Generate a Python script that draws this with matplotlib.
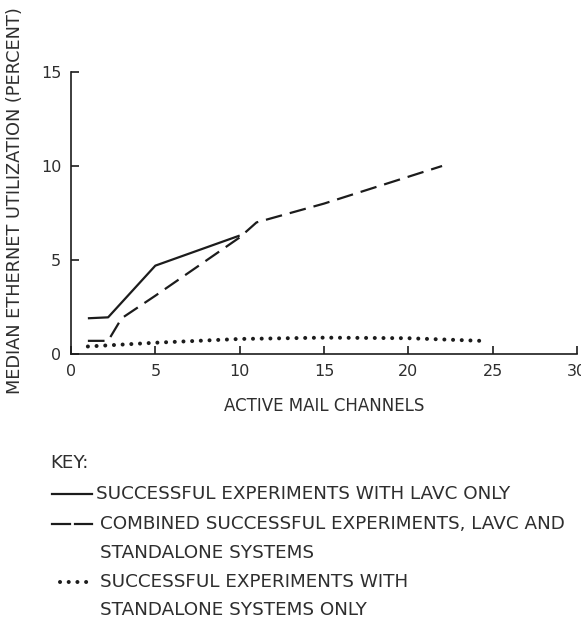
import matplotlib
matplotlib.use("Agg")
import matplotlib.pyplot as plt
from matplotlib.lines import Line2D

plt.rcParams['font.family'] = ['DejaVu Sans']

# Data
lavc_x = [1, 2.2, 5, 10]
lavc_y = [1.9, 1.95, 4.7, 6.3]

combined_x = [1, 2.2, 3, 5, 10, 11, 15, 22]
combined_y = [0.7, 0.7, 1.9, 3.1, 6.2, 7.0, 8.0, 10.0]

standalone_x = [1, 5, 10, 15, 20, 24.3]
standalone_y = [0.4, 0.6, 0.8, 0.87, 0.84, 0.7]

x_ticks = [0, 5, 10, 15, 20, 25, 30]
y_ticks = [0, 5, 10, 15]

W, H = 581, 627
fig = plt.figure(figsize=(W / 100, H / 100), dpi=100)
ink = '#1c1c1c'
txt = '#2e2e2e'

x0, x1 = 71, 577
y0, y1 = 354, 72
ax = fig.add_axes([x0 / W, 1 - y0 / H, (x1 - x0) / W, (y0 - y1) / H])
ax.plot(lavc_x, lavc_y, color=ink, lw=1.6, solid_capstyle='butt')
ax.plot(combined_x, combined_y, color=ink, lw=1.6, linestyle=(0, (7.5, 3.6)))
ax.plot(standalone_x, standalone_y, color=ink, lw=2.9, linestyle=(0, (0.01, 2.15)),
        dash_capstyle='round')

ax.set_xlim(0, 30)
ax.set_ylim(0, 15)
ax.set_xticks(x_ticks)
ax.set_yticks(y_ticks)
for s in ['top', 'right']:
    ax.spines[s].set_visible(False)
for s in ['left', 'bottom']:
    ax.spines[s].set_color(ink)
    ax.spines[s].set_linewidth(1.2)
ax.tick_params(axis='x', direction='in', length=6, width=1.2, colors=ink,
               labelsize=11.5, labelcolor=txt, pad=7)
ax.tick_params(axis='y', direction='in', length=6, width=1.2, colors=ink,
               labelsize=11.5, labelcolor=txt, pad=7)
ax.set_xlabel('ACTIVE MAIL CHANNELS', fontsize=12, color=txt, labelpad=13)
ax.patch.set_alpha(0)

# Overlay for y label and key, pixel coordinates
ov = fig.add_axes([0, 0, 1, 1])
ov.set_xlim(0, W)
ov.set_ylim(H, 0)
ov.axis('off')
ov.patch.set_alpha(0)

ov.text(15, 201, 'MEDIAN ETHERNET UTILIZATION (PERCENT)', rotation=90,
        ha='center', va='center', fontsize=12.8, color=txt)

fs = 13.2
ov.text(50, 463, 'KEY:', ha='left', va='center', fontsize=fs, color=txt)
ov.add_line(Line2D([52, 92], [494, 494], color=ink, lw=1.6))
ov.text(96, 494, 'SUCCESSFUL EXPERIMENTS WITH LAVC ONLY', ha='left', va='center',
        fontsize=fs, color=txt)
ov.add_line(Line2D([52, 70], [524, 524], color=ink, lw=1.6))
ov.add_line(Line2D([75, 92], [524, 524], color=ink, lw=1.6))
ov.text(100, 524, 'COMBINED SUCCESSFUL EXPERIMENTS, LAVC AND', ha='left', va='center',
        fontsize=fs, color=txt)
ov.text(100, 553, 'STANDALONE SYSTEMS', ha='left', va='center', fontsize=fs, color=txt)
ov.add_line(Line2D([60, 90], [582, 582], color=ink, lw=2.9, linestyle=(0, (0.01, 2.15)),
                   dash_capstyle='round'))
ov.text(100, 582, 'SUCCESSFUL EXPERIMENTS WITH', ha='left', va='center',
        fontsize=fs, color=txt)
ov.text(100, 610, 'STANDALONE SYSTEMS ONLY', ha='left', va='center', fontsize=fs, color=txt)

fig.savefig('out.png', dpi=100, facecolor='white')
